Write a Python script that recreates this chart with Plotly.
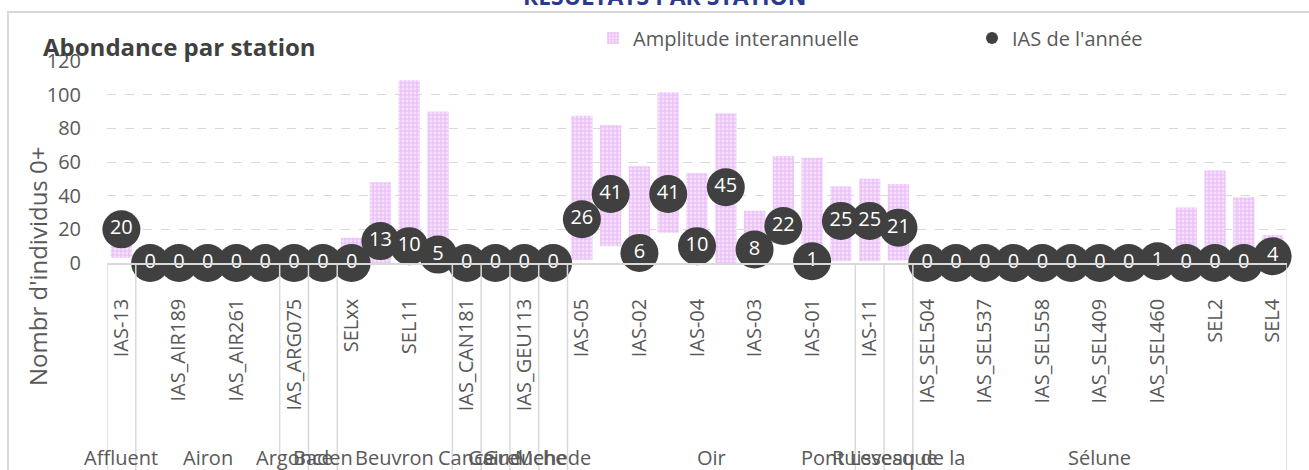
import plotly.graph_objects as go

# ---------------- data ----------------
stations = ["IAS-13", "", "IAS_AIR189", "", "IAS_AIR261", "", "IAS_ARG075", "",
            "SELxx", "", "SEL11", "", "IAS_CAN181", "", "IAS_GEU113", "",
            "IAS-05", "", "IAS-02", "", "IAS-04", "", "IAS-03", "", "IAS-01", "",
            "IAS-11", "", "IAS_SEL504", "", "IAS_SEL537", "", "IAS_SEL558", "",
            "IAS_SEL409", "", "IAS_SEL460", "", "SEL2", "", "SEL4"]

groups = (["Affluent"] + ["Airon"] * 5 + ["Argonce"] + ["Baden"] + ["Beuvron"] * 4
          + ["Cance", "Gairel", "Gueuche", "Mehede"] + ["Oir"] * 10
          + ["Pont Levesque", "Ruisseau de la"] + ["Sélune"] * 13)

ias_annee = [20, 0, 0, 0, 0, 0, 0, 0, 0, 13, 10, 5, 0, 0, 0, 0,
             26, 41, 6, 41, 10, 45, 8, 22, 1, 25, 25, 21,
             0, 0, 0, 0, 0, 0, 0, 0, 1, 0, 0, 0, 4]

amp_min = [3, None, None, None, None, None, None, None, 0, 0, 1, 0,
           None, None, None, None,
           2, 10, 3, 18, 5, 0, 2, 12, 0, 1, 1, 1.5,
           None, None, None, None, None, None, None, None, None, 0, 0, 0, 0]
amp_max = [22, None, None, None, None, None, None, None, 15, 48, 108.5, 90,
           None, None, None, None,
           87.5, 82, 57.5, 101.5, 53.5, 89, 31, 63.5, 62.5, 45.5, 50, 47,
           None, None, None, None, None, None, None, None, None, 33, 55, 39, 16.5]

y_ticks = [0, 20, 40, 60, 80, 100, 120]

# ---------------- layout helpers ----------------
FIG_W, FIG_H = 1309, 470
L, R, T, B = 107, 1287, 61, 263
PW, PH = R - L, B - T


def pxx(p):
    return (p - L) / PW


def pxy(p):
    return (B - p) / PH


FONT = "Open Sans"
TXT = "#595959"

idx = list(range(len(stations)))
amp_len = [None if a is None else b - a for a, b in zip(amp_min, amp_max)]

fig = go.Figure()

fig.add_trace(go.Bar(
    x=idx, y=amp_len, base=amp_min, width=0.74,
    name="Amplitude interannuelle",
    marker=dict(color="#EEC2F9", line=dict(width=0),
                pattern=dict(shape="+", size=4, solidity=0.5,
                             fgcolor="#DC98F3", bgcolor="#F7E0FD")),
    legend="legend",
))

fig.add_trace(go.Scatter(
    x=idx, y=ias_annee, mode="markers", name="IAS de l'année",
    marker=dict(size=38, color="#404040", line=dict(width=0)),
    cliponaxis=False, legend="legend2",
))

fig.add_trace(go.Scatter(
    x=idx, y=ias_annee, mode="text", text=[str(v) for v in ias_annee],
    textfont=dict(family=FONT, size=20, color="white"),
    cliponaxis=False, showlegend=False,
))

shapes = []
# group separators
bounds = [-0.5] + [i - 0.5 for i in range(1, len(groups)) if groups[i] != groups[i - 1]] + [len(groups) - 0.5]
for bnd in bounds:
    shapes.append(dict(type="line", xref="x", yref="paper", x0=bnd, x1=bnd,
                       y0=0, y1=pxy(480), line=dict(color="#D9D9D9", width=1.5)))
# outer chart border
shapes.append(dict(type="rect", xref="paper", yref="paper",
                   x0=pxx(8), x1=pxx(1330), y0=pxy(12), y1=pxy(500),
                   line=dict(color="#D9D9D9", width=2), fillcolor="rgba(0,0,0,0)"))

annotations = []
# group labels
start = 0
for i in range(1, len(groups) + 1):
    if i == len(groups) or groups[i] != groups[start]:
        annotations.append(dict(x=(start + i - 1) / 2, y=pxy(457), xref="x", yref="paper",
                                text=groups[start], showarrow=False,
                                font=dict(family=FONT, size=20, color=TXT),
                                xanchor="center", yanchor="middle"))
        start = i

annotations.append(dict(x=pxx(41), y=pxy(47), xref="paper", yref="paper",
                        text="<b>Abondance par station</b>", showarrow=False,
                        font=dict(family=FONT, size=24, color="#404040"),
                        xanchor="left", yanchor="middle"))
annotations.append(dict(x=pxx(665), y=pxy(14), xref="paper", yref="paper",
                        text="<b>RÉSULTATS PAR STATION</b>", showarrow=False,
                        font=dict(family=FONT, size=23, color="#2B3A8C"),
                        xanchor="center", yanchor="bottom"))
annotations.append(dict(x=pxx(37), y=pxy(267), xref="paper", yref="paper",
                        text="Nombr d'individus 0+", showarrow=False, textangle=-90,
                        font=dict(family=FONT, size=24, color=TXT),
                        xanchor="center", yanchor="middle"))

fig.update_layout(
    width=FIG_W, height=FIG_H,
    margin=dict(l=L, r=FIG_W - R, t=T, b=FIG_H - B, autoexpand=False),
    paper_bgcolor="white", plot_bgcolor="white",
    font=dict(family=FONT, size=20, color=TXT),
    shapes=shapes, annotations=annotations,
    legend=dict(orientation="h", x=pxx(593), y=pxy(38), xanchor="left", yanchor="middle",
                font=dict(family=FONT, size=20, color=TXT), bgcolor="rgba(0,0,0,0)",
                itemsizing="constant"),
    legend2=dict(orientation="h", x=pxx(972), y=pxy(38), xanchor="left", yanchor="middle",
                 font=dict(family=FONT, size=20, color=TXT), bgcolor="rgba(0,0,0,0)",
                 itemsizing="constant"),
    barmode="overlay",
    xaxis=dict(range=[-0.5, len(stations) - 0.5], tickmode="array", tickvals=idx,
               ticktext=stations, tickangle=-90, showgrid=False, zeroline=False,
               showline=True, linecolor="#D9D9D9", linewidth=1.5, ticks="",
               ticklabelstandoff=26, tickfont=dict(family=FONT, size=20, color=TXT),
               automargin=False, fixedrange=True),
    yaxis=dict(range=[0, 120], tickmode="array", tickvals=y_ticks, showgrid=True,
               gridcolor="#D9D9D9", griddash="dash", gridwidth=1, zeroline=False,
               showline=False, ticks="", ticklabelstandoff=25,
               tickfont=dict(family=FONT, size=20, color=TXT), automargin=False,
               fixedrange=True),
)

fig.write_html("out.html", config={"displayModeBar": False},
               post_script="document.body.style.margin='0';document.body.style.overflow='hidden';")
